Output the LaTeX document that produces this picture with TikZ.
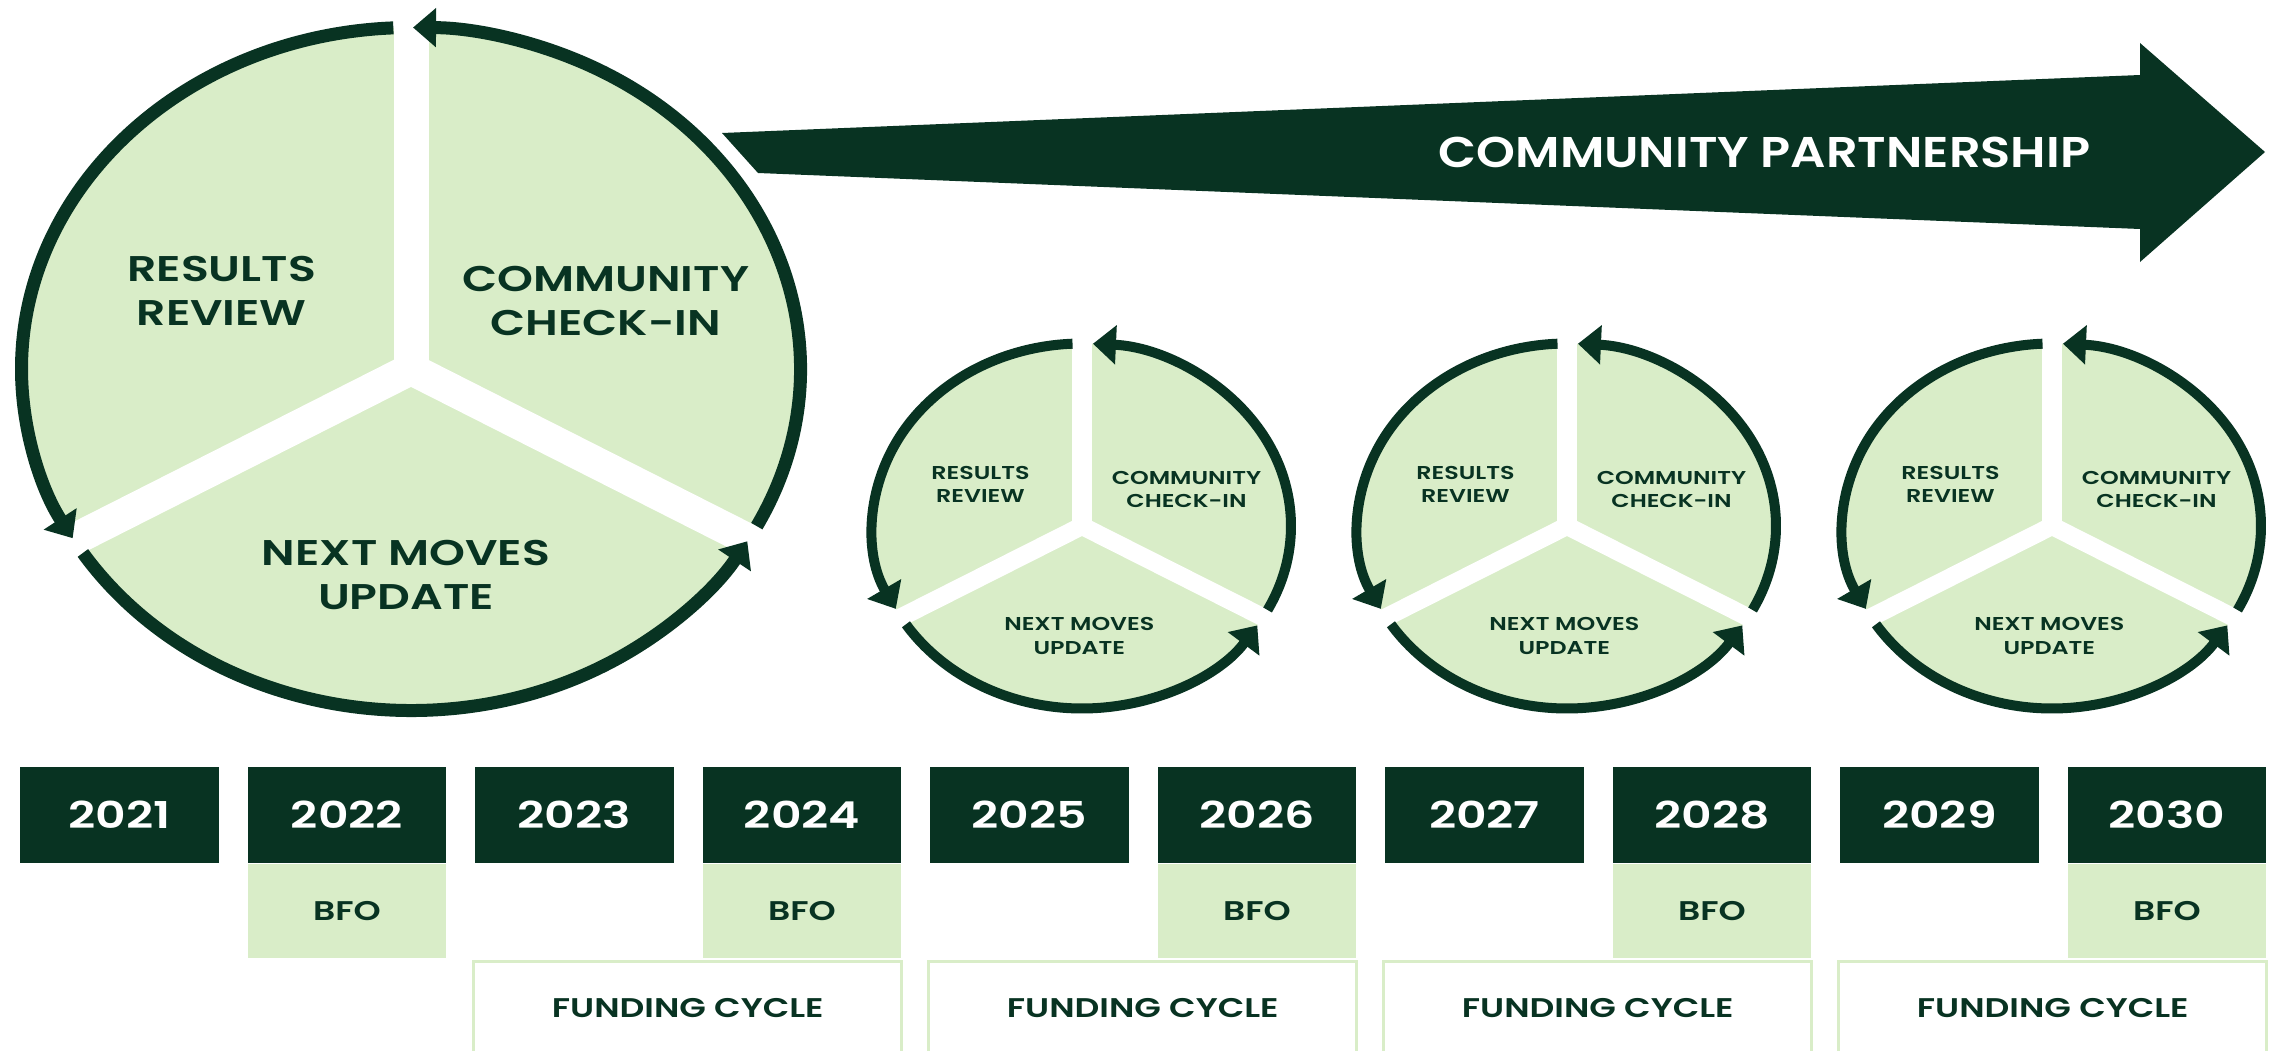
\documentclass[tikz,border=0pt]{standalone}
\usepackage{fontspec}
\setmainfont{Poppins}[FakeStretch=1.28, BoldFont={Poppins SemiBold}]
\newfontfamily\bandfont{Poppins}[FakeStretch=1.15, BoldFont={Poppins SemiBold}]
\usetikzlibrary{arrows.meta}
\definecolor{dkg}{RGB}{8,51,34}
\definecolor{ltg}{RGB}{217,237,200}
\tikzset{
  cyctxt/.style={text=dkg, align=center, inner sep=0pt},
  yearbox/.style={fill=dkg, text=white, minimum width=198.5pt, minimum height=96pt, inner sep=0pt, font=\bfseries\fontsize{37}{37}\selectfont},
  bfobox/.style={fill=ltg, text=dkg, minimum width=198.5pt, minimum height=94pt, inner sep=0pt, font=\bfseries\fontsize{27}{27}\selectfont},
  fundline/.style={draw=ltg, line width=3pt},
  fundtxt/.style={text=dkg, inner sep=0pt, font=\bfseries\fontsize{27}{27}\selectfont},
  bandtxt/.style={text=white, inner sep=0pt, font=\bandfont\bfseries\fontsize{43}{43}\selectfont},
}
% #1 name, #2 cx, #3 cy (image y), #4 rx, #5 ry
\newcommand{\drawcyc}[5]{%
\begin{scope}[shift={(#2,-#3)}, xscale=#4, yscale=#5]
  \fill[ltg] (0,0) circle[radius=1];
  \draw[white, line width=\cSV] (0,-0.03) -- (0,1.1);
  \draw[white, line width=\cSS] (0,0) -- (210:1.1);
  \draw[white, line width=\cSS] (0,0) -- (330:1.1);
  \draw[dkg, line width=\cLW, -{Triangle[length=23pt,width=38pt]}]
    ({90+\gs}:1) arc[start angle={90+\gs}, end angle={210-\gt}, radius=1];
  \draw[dkg, line width=\cLW, -{Triangle[length=23pt,width=38pt]}]
    ({210+\gs}:1) arc[start angle={210+\gs}, end angle={330-\gt}, radius=1];
  \draw[dkg, line width=\cLW, -{Triangle[length=23pt,width=38pt]}]
    ({-30+\gs}:1) arc[start angle={-30+\gs}, end angle={90-\gt}, radius=1];
  \node[cyctxt, font=\cfont] (#1rr) at (-0.486,0.228) {RESULTS\\REVIEW};
  \node[cyctxt, font=\cfont] (#1cc) at (0.5,0.2) {COMMUNITY\\CHECK-IN};
  \node[cyctxt, font=\cfont] (#1nm) at (-0.013,-0.603) {NEXT MOVES\\UPDATE};
\end{scope}}
\begin{document}
\begin{tikzpicture}[x=1pt,y=1pt]
\useasboundingbox (0,0) rectangle (2277,-1051);
% partnership arrow
\fill[dkg] (722,-133) -- (2140,-75) -- (2140,-43) -- (2265,-152) -- (2140,-262) -- (2140,-229) -- (758,-173) -- cycle;
\node[bandtxt] (cp) at (1764.5,-152) {COMMUNITY PARTNERSHIP};
% big cycle
\def\cLW{13pt}\def\cSV{35pt}\def\cSS{32pt}\def\gs{2.6}\def\gt{0.3}
\def\cfont{\bfseries\fontsize{35.7}{44}\selectfont}
\drawcyc{big}{411}{369}{389.5}{341.5}
% small cycles
\def\cLW{10pt}\def\cSV{20pt}\def\cSS{18pt}\def\gs{2.6}\def\gt{3}
\def\cfont{\bfseries\fontsize{18.6}{23.5}\selectfont}
\drawcyc{sa}{1082}{526}{209}{182.5}
\drawcyc{sb}{1567}{526}{209}{182.5}
\drawcyc{sc}{2052}{526}{209}{182.5}
% years
\foreach \i in {0,...,9}{
  \pgfmathtruncatemacro\yr{2021+\i}
  \node[yearbox, anchor=north west] (y\yr) at ({20+227.5*\i},-767) {\yr};
}
\foreach \yr in {2022,2024,2026,2028,2030}{
  \node[bfobox, anchor=north] (bfo\yr) at (y\yr.south) {BFO};
}
% funding cycles
\foreach \a/\b/\k in {2023/2024/1,2025/2026/2,2027/2028/3,2029/2030/4}{
  \coordinate (fl\k) at ([xshift=-1.5pt]y\a.south west);
  \coordinate (fr\k) at ([xshift=0.5pt]y\b.south east);
  \draw[fundline] (fl\k |- 0,-1060) -- (fl\k |- 0,-961.5) -- (fr\k |- 0,-961.5) -- (fr\k |- 0,-1060);
  \path (fl\k |- 0,-1008) -- (fr\k |- 0,-1008) node[midway, fundtxt] (fc\k) {FUNDING CYCLE};
}
\end{tikzpicture}
\end{document}
